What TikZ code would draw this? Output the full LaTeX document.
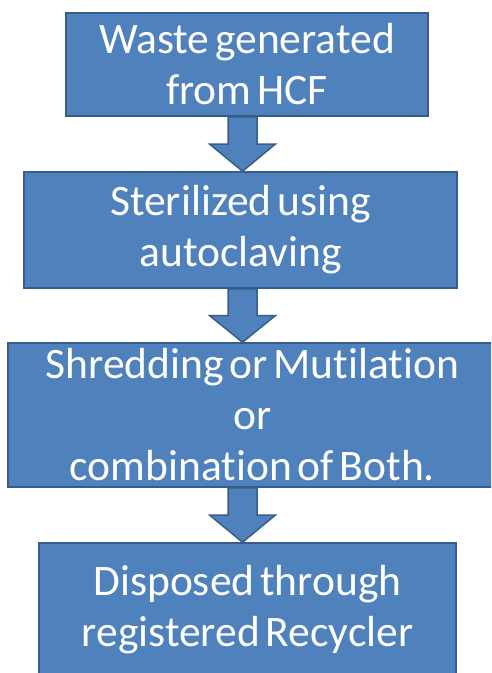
\documentclass[tikz,border=0pt]{standalone}
\usepackage{fontspec}
\setmainfont[Ligatures=NoCommon, WordSpace=0.6]{Carlito}
\usepackage{tikz}
\usetikzlibrary{calc}
\definecolor{boxblue}{HTML}{4F81BD}
\definecolor{boxedge}{HTML}{385D8A}
\tikzset{
	stage/.style = {
		draw = boxedge,
		fill = boxblue,
		line width = 1.5pt,
		text = white,
		align = center,
		inner sep = 0pt,
		font = \fontsize{43.5}{51}\selectfont
	},
	flow/.style = {
		draw = boxedge,
		fill = boxblue,
		line width = 1.5pt,
		line join = miter
	}
}
\newcommand{\flowarrow}[2]{%
	\draw[flow] let \p1 = (#1), \p2 = (#2), \n1 = {0.5*(\y1-\y2)} in
		(\x1-14.5pt,\y1) -- (\x1-14.5pt,\y1-\n1) -- (\x1-33pt,\y1-\n1) -- (\x2,\y2)
		-- (\x1+33pt,\y1-\n1) -- (\x1+14.5pt,\y1-\n1) -- (\x1+14.5pt,\y1) -- cycle;}

\begin{document}
\begin{tikzpicture}[x=1pt, y=1pt]
		\useasboundingbox (0,0) rectangle (491,-673);
		\clip (0,0) rectangle (491,-673);
		\node[stage, minimum width=362pt, minimum height=103pt] (waste) at (247,-64.5) {Waste generated\\from HCF};
		\node[stage, minimum width=433pt, minimum height=116pt] (steril) at (240.5,-230) {Sterilized using\\autoclaving};
		\node[stage, minimum width=489pt, minimum height=144pt] (shred) at (252.5,-415) {Shredding or Mutilation\\or\\combination of Both.};
		\node[stage, minimum width=417pt, minimum height=134pt] (dispose) at (247.5,-610) {Disposed through\\registered Recycler};
		
		\coordinate (axis) at (242.5,0);
		\flowarrow{waste.south -| axis}{steril.north -| axis}
		\flowarrow{steril.south -| axis}{shred.north -| axis}
		\flowarrow{shred.south -| axis}{dispose.north -| axis}
	\end{tikzpicture}
\end{document}
